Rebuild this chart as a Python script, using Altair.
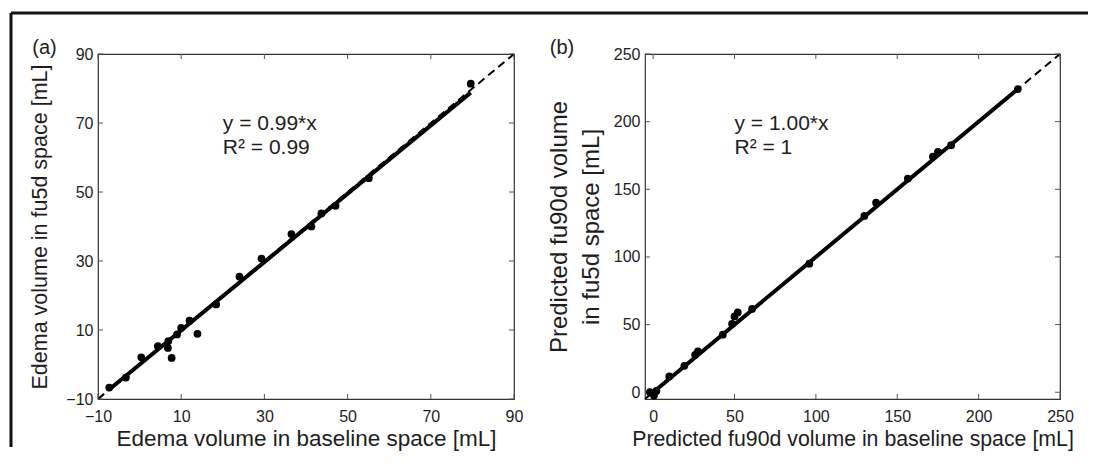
import altair as alt
import pandas as pd

FONT = "Liberation Sans"
INK = "#1e1e1e"

# ---------------- data ----------------
# panel (a): edema volume
a_x = [-7.3, -3.3, 0.4, 4.4, 6.8, 6.9, 7.7, 9.0, 10.0, 12.0, 13.9, 18.4, 24.0, 29.3, 36.5, 41.3, 43.7, 47.1, 55.1, 79.6]
a_y = [-6.7, -3.8, 2.1, 5.3, 4.8, 6.8, 1.9, 8.7, 10.6, 12.7, 8.9, 17.4, 25.5, 30.7, 37.8, 40.0, 43.8, 46.0, 54.0, 81.4]
a_slope = 0.99
a_domain = [-10, 90]
a_ticks = [-10, 10, 30, 50, 70, 90]
a_eq = ["y = 0.99*x", "R\u00b2 = 0.99"]
a_eq_x = [20, 20]
a_eq_y = [68.0, 61.0]

# panel (b): predicted fu90d volume
b_x = [-2.0, 0.5, 2.0, 9.9, 19.2, 25.8, 27.5, 42.8, 48.5, 50.0, 52.0, 60.8, 96.0, 129.8, 137.0, 156.5, 171.9, 175.0, 183.1, 224.1]
b_y = [0.0, -2.5, 1.0, 11.7, 19.5, 27.7, 30.2, 42.5, 50.5, 56.0, 59.0, 61.6, 95.0, 130.3, 140.1, 157.9, 174.2, 177.7, 182.6, 224.1]
b_slope = 1.00
b_domain = [-5, 250]
b_ticks = [0, 50, 100, 150, 200, 250]
b_eq = ["y = 1.00*x", "R\u00b2 = 1"]
b_eq_x = [50, 50]
b_eq_y = [193.8, 176.1]

panel_labels = ["(a)", "(b)"]

W_A, W_B, H = 416, 415, 345


def panel(xs, ys, slope, domain, ticks, eq, eq_x, eq_y, xtitle, ytitle,
          width, label, label_dx, ytitle_x, ytitle_size, xtitle_size, frame=False):
    pts = pd.DataFrame({"x": xs, "y": ys})
    fit = pd.DataFrame({"x": [min(xs), max(xs)],
                        "y": [slope * min(xs), slope * max(xs)]})
    ident = pd.DataFrame({"x": domain, "y": domain})
    tk = pd.DataFrame({"x": ticks, "y": ticks})
    txt = pd.DataFrame({"x": eq_x, "y": eq_y, "t": eq})

    xs_ = alt.Scale(domain=domain, nice=False, zero=False)
    ys_ = alt.Scale(domain=domain, nice=False, zero=False)

    xaxis = alt.Axis(values=ticks, ticks=False, domain=False, grid=False,
                     labelFont=FONT, labelFontSize=16, labelColor=INK,
                     labelPadding=9, labelFlush=False,
                     title=xtitle, titleFont=FONT, titleFontSize=xtitle_size,
                     titleFontWeight="normal", titleColor=INK,
                     titleBaseline="alphabetic", titleY=46, titleX=width / 2)
    yaxis = alt.Axis(values=ticks, ticks=False, domain=False, grid=False,
                     labelFont=FONT, labelFontSize=16, labelColor=INK,
                     labelPadding=5, labelFlush=False,
                     title=ytitle, titleFont=FONT, titleFontSize=ytitle_size,
                     titleFontWeight="normal", titleColor=INK,
                     titleAngle=270, titleBaseline="middle", titleAlign="center",
                     titleX=ytitle_x, titleY=H / 2, titleLineHeight=32)

    X = alt.X("x:Q", scale=xs_, axis=xaxis)
    Y = alt.Y("y:Q", scale=ys_, axis=yaxis)

    dashed = alt.Chart(ident).mark_line(color="black", strokeWidth=2,
                                        strokeDash=[8, 5]).encode(x=X, y=Y)
    solid = alt.Chart(fit).mark_line(color="black", strokeWidth=4).encode(x=X, y=Y)
    dots = alt.Chart(pts).mark_circle(color="black", opacity=1, size=60).encode(x=X, y=Y)

    tick_col = "#555"
    tb = alt.Chart(tk).mark_rule(color=tick_col, strokeWidth=1).encode(
        x=X, y=alt.value(H), y2=alt.value(H - 5))
    tt = alt.Chart(tk).mark_rule(color=tick_col, strokeWidth=1).encode(
        x=X, y=alt.value(0), y2=alt.value(5))
    tl = alt.Chart(tk).mark_rule(color=tick_col, strokeWidth=1).encode(
        y=Y, x=alt.value(0), x2=alt.value(5))
    tr = alt.Chart(tk).mark_rule(color=tick_col, strokeWidth=1).encode(
        y=Y, x=alt.value(width), x2=alt.value(width - 5))

    eqs = alt.Chart(txt).mark_text(align="left", baseline="alphabetic", font=FONT,
                                   fontSize=21, color=INK).encode(
        x=X, y=Y, text="t:N")

    lab = alt.Chart(pd.DataFrame({"t": [label]})).mark_text(
        align="center", baseline="middle", font=FONT, fontSize=20, color=INK).encode(
        x=alt.value(label_dx), y=alt.value(-6), text="t:N")

    layers = [dashed, solid, tb, tt, tl, tr, dots, eqs, lab]
    if frame:
        fr = pd.DataFrame({"k": ["frame"]})
        top = alt.Chart(fr).mark_rule(color="#111", strokeWidth=3).encode(
            x=alt.value(-87), x2=alt.value(990), y=alt.value(-41))
        left = alt.Chart(fr).mark_rule(color="#111", strokeWidth=3).encode(
            x=alt.value(-87), y=alt.value(-41), y2=alt.value(393))
        layers += [top, left]
    return alt.layer(*layers).properties(width=width, height=H)


pa = panel(a_x, a_y, a_slope, a_domain, a_ticks, a_eq, a_eq_x, a_eq_y,
           "Edema volume in baseline space [mL]",
           "Edema volume in fu5d space [mL]",
           W_A, panel_labels[0], -53.5, -58, 21.5, 22.5, frame=True)
pb = panel(b_x, b_y, b_slope, b_domain, b_ticks, b_eq, b_eq_x, b_eq_y,
           "Predicted fu90d volume in baseline space [mL]",
           ["Predicted fu90d volume", "in fu5d space [mL]"],
           W_B, panel_labels[1], -83, -85.5, 24, 21.3)

chart = alt.hconcat(pa, pb, spacing=131, bounds="flush").properties(
    padding={"left": 0, "top": 2, "right": 0, "bottom": 0},
    background="white",
).configure_view(stroke="#333", strokeWidth=1.2)

chart.save("out.html", embed_options={"renderer": "svg", "actions": False})
